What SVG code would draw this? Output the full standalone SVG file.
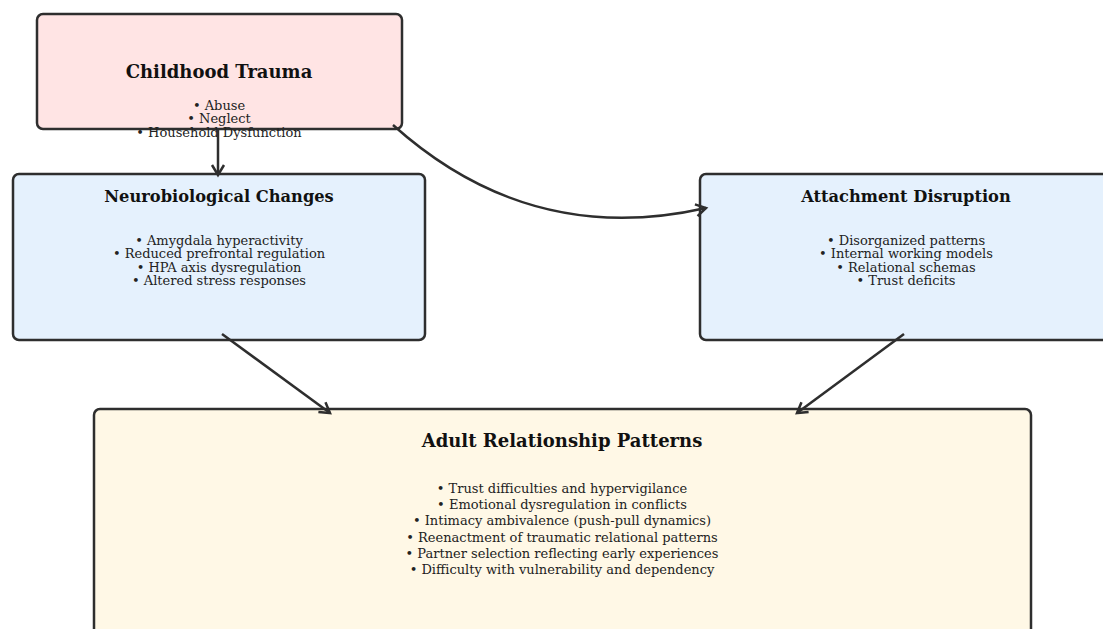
<svg xmlns="http://www.w3.org/2000/svg" width="1103" height="629" viewBox="0 0 1103 629">
<defs>
<style>
.box{stroke:#2e2e2e;stroke-width:2.5}
.title{font-family:"DejaVu Serif",serif;font-weight:bold;fill:#111;text-anchor:middle}
.item{font-family:"DejaVu Serif",serif;fill:#222;text-anchor:middle;font-size:13px}
.conn{fill:none;stroke:#2e2e2e;stroke-width:2.5}
</style>
<marker id="ah" viewBox="-12 -8 14 16" refX="0" refY="0" markerWidth="14" markerHeight="16" markerUnits="userSpaceOnUse" orient="auto" overflow="visible">
<path d="M-10,-6 L0,0 L-10,6" fill="none" stroke="#2e2e2e" stroke-width="2.5"/>
</marker>
</defs>
<rect width="1103" height="629" fill="#ffffff"/>
<g id="trauma">
<rect class="box" x="37" y="14" width="365" height="115" rx="6" fill="#ffe4e4"/>
<text class="title" x="219" y="78" font-size="18">Childhood Trauma</text>
<text class="item" x="219" y="110">• Abuse</text>
<text class="item" x="219" y="123">• Neglect</text>
<text class="item" x="219" y="137">• Household Dysfunction</text>
</g>
<g id="neuro">
<rect class="box" x="13" y="174" width="412" height="166" rx="6" fill="#e5f1fd"/>
<text class="title" x="219" y="202" font-size="16.25">Neurobiological Changes</text>
<text class="item" x="219" y="245">• Amygdala hyperactivity</text>
<text class="item" x="219" y="258">• Reduced prefrontal regulation</text>
<text class="item" x="219" y="272">• HPA axis dysregulation</text>
<text class="item" x="219" y="285">• Altered stress responses</text>
</g>
<g id="attach">
<rect class="box" x="700" y="174" width="420" height="166" rx="6" fill="#e5f1fd"/>
<text class="title" x="906" y="202" font-size="16.25">Attachment Disruption</text>
<text class="item" x="906" y="245">• Disorganized patterns</text>
<text class="item" x="906" y="258">• Internal working models</text>
<text class="item" x="906" y="272">• Relational schemas</text>
<text class="item" x="906" y="285">• Trust deficits</text>
</g>
<g id="adult">
<rect class="box" x="94" y="409" width="937" height="240" rx="6" fill="#fff8e6"/>
<text class="title" x="562" y="447" font-size="18">Adult Relationship Patterns</text>
<text class="item" x="562" y="493">• Trust difficulties and hypervigilance</text>
<text class="item" x="562" y="509">• Emotional dysregulation in conflicts</text>
<text class="item" x="562" y="525">• Intimacy ambivalence (push-pull dynamics)</text>
<text class="item" x="562" y="542">• Reenactment of traumatic relational patterns</text>
<text class="item" x="562" y="558">• Partner selection reflecting early experiences</text>
<text class="item" x="562" y="574">• Difficulty with vulnerability and dependency</text>
</g>
<g id="connectors">
<path class="conn" d="M218,130 L218,175" marker-end="url(#ah)"/>
<path class="conn" d="M393,125 Q530,248 706,208" marker-end="url(#ah)"/>
<path class="conn" d="M222,334 L330,413" marker-end="url(#ah)"/>
<path class="conn" d="M904,334 L797,413" marker-end="url(#ah)"/>
</g>
</svg>
